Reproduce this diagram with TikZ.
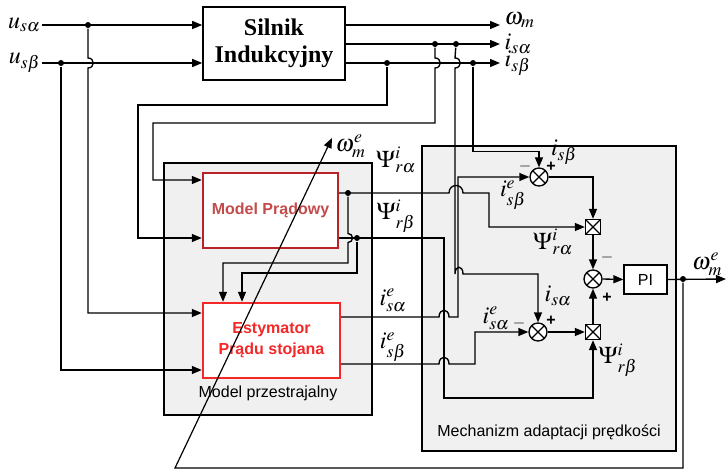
\documentclass[tikz,border=0pt]{standalone}
\usepackage{mathptmx}
\usepackage{fontspec}
\setmainfont{Liberation Serif}
\setsansfont{Liberation Sans}
\usepackage{tikz}
\usetikzlibrary{positioning,arrows.meta}
\definecolor{panelgray}{RGB}{240,240,240}
\definecolor{mpred}{RGB}{185,35,40}
\definecolor{mptext}{RGB}{195,75,75}
\definecolor{estred}{RGB}{245,40,40}
\newcommand{\lblsize}{\fontsize{24}{26}\selectfont}
\newcommand{\sgnsize}{\fontsize{16}{17}\selectfont}

\begin{document}
\begin{tikzpicture}[x=1pt,y=-1pt,line width=1.35pt,
  >={Triangle[length=10pt,width=8pt]},
  font=\sffamily\fontsize{16}{19}\selectfont,
  panel/.style={draw,fill=panelgray,line width=1.3pt,inner sep=0pt},
  redbox/.style={draw,fill=white,line width=2.4pt,minimum width=136pt,minimum height=75pt,align=center,font=\sffamily\bfseries\fontsize{16}{21}\selectfont},
  lbl/.style={inner sep=1pt,font=\lblsize},
  sgn/.style={inner sep=0pt,font=\sffamily\bfseries\sgnsize},
  dot/.style={circle,fill,inner sep=0pt,minimum size=6pt},
  sumj/.style={circle,draw,fill=white,minimum size=18pt,inner sep=0pt,
    path picture={\draw (path picture bounding box.north west) -- (path picture bounding box.south east)
      (path picture bounding box.north east) -- (path picture bounding box.south west);}},
  mulj/.style={rectangle,draw,fill=white,minimum size=15pt,inner sep=0pt,
    path picture={\draw (path picture bounding box.north west) -- (path picture bounding box.south east)
      (path picture bounding box.north east) -- (path picture bounding box.south west);}}]
\useasboundingbox (0,0) rectangle (727,473);

% panels
\node[panel,minimum width=208pt,minimum height=252pt] (mpz) at (268,289) {};
\node[panel,minimum width=254pt,minimum height=305pt] (adapt) at (549,298.5) {};
\node (mpzlbl) at (268,393) {Model przestrajalny};
\node (adaptlbl) at (549,432) {Mechanizm adaptacji prędkości};

% blocks
\node[draw,fill=white,line width=1.6pt,minimum width=142pt,minimum height=73pt,align=center,
  font=\rmfamily\bfseries\fontsize{24}{27}\selectfont] (sil) at (274,43.5) {Silnik\\Indukcyjny};
\node[redbox,draw=mpred,text=mptext,minimum width=135pt] (mp) at (270.5,210.5) {Model Prądowy};
\node[redbox,draw=estred,text=estred,minimum width=137pt] (est) at (271.5,340.5) {Estymator\\Prądu stojana};
\node[draw,fill=white,line width=1.3pt,minimum width=43pt,minimum height=29pt] (pi) at (645.5,279.5) {PI};

\node[sumj] (sum1) at (539,177) {};
\node[sumj] (sum2) at (593,279) {};
\node[sumj] (sum3) at (538,332) {};
\node[mulj] (mul1) at (593,227) {};
\node[mulj] (mul2) at (593,332) {};

% ports
\coordinate (mp-a) at ([yshift=30.5pt]mp.west);
\coordinate (mp-b) at ([yshift=-27.5pt]mp.west);
\coordinate (mp-c) at ([yshift=17.5pt]mp.east);
\coordinate (mp-d) at ([yshift=-27.5pt]mp.east);
\coordinate (est-a) at ([yshift=27.5pt]est.west);
\coordinate (est-b) at ([yshift=-29.5pt]est.west);
\coordinate (est-e) at ([xshift=-48.5pt]est.north);
\coordinate (est-f) at ([xshift=-29.5pt]est.north);
\coordinate (est-g) at ([yshift=23.5pt]est.east);
\coordinate (est-h) at ([yshift=-23.5pt]est.east);

% inputs and outputs
\node[lbl,anchor=east] (usa) at (42,25) {$u_{s\alpha}$};
\node[lbl,anchor=east] (usb) at (42,63) {$u_{s\beta}$};
\coordinate (o1) at (500,25);
\coordinate (o2) at (500,44);
\coordinate (o3) at (500,63);
\coordinate (o4) at (726,279);
\node[lbl,right=3pt of o1,yshift=5pt] (wm) {$\omega_{m}$};
\node[lbl,right=3pt of o2] (isa) {$i_{s\alpha}$};
\node[lbl,right=3pt of o3] (isb) {$i_{s\beta}$};

\node[dot] (ja) at (88,25) {};
\node[dot] (jb) at (61,63) {};
\node[dot] (jc) at (387,63) {};
\node[dot] (jd) at (435,44) {};
\node[dot] (je) at (456,44) {};
\node[dot] (jf) at (473,63) {};
\node[dot] (jg) at (348,193) {};
\node[dot] (jh) at (357,238) {};
\node[dot] (jk) at (683,279) {};

\draw[->] (usa.east) -- (sil.west |- usa.east);
\draw[->] (usb.east) -- (sil.west |- usb.east);
\draw[->] (sil.east |- o1) -- (o1);
\draw[->] (sil.east |- o2) -- (o2);
\draw[->] (sil.east |- o3) -- (o3);

\draw[->] (ja) -- (88,58) .. controls +(7,0) and +(7,0) .. (88,68) |- (est-a);
\draw[->] (jb) |- (est-b);

% feedback of the measured currents
\draw[->] (jc) |- (138,105) |- (mp-b);
\draw[->] (jd) -- (435,58) .. controls +(7,0) and +(7,0) .. (435,68) |- (153,123) |- (mp-a);
\draw[->] (je) -- (455,58) .. controls +(7,0) and +(7,0) .. (455,68) -- (455,274)
  .. controls +(0,-9) and +(0,-9) .. (463,274) -| (sum3.north);
\draw[->] (jf) |- ([yshift=16pt]sum1.north) -- (sum1.north);

% model outputs
\draw[->] (mp-c) -- (449,193) .. controls +(0,-10) and +(0,-10) .. (463,193) -| (489,210) |- (mul1.west);
\draw[->] (mp-d) -- (444,238) |- (593,398) -- (mul2.south);
\draw[->] (jg) -- (348,233.5) .. controls +(6,0) and +(6,0) .. (348,242.5) -- (348,263) -| (est-e);
\draw[->] (jh) -- (357,273) -| (est-f);
\draw[->] (est-g) -- (439,317) .. controls +(0,-9) and +(0,-9) .. (449,317) -| (458,250) |- (sum1.west);
\draw[->] (est-h) -- (439,364) .. controls +(0,-9) and +(0,-9) .. (449,364) -| (475,350) |- (sum3.west);

% adaptation
\draw[->] (sum1.east) -| (mul1.north);
\draw[->] (mul1.south) -- (sum2.north);
\draw[->] (sum3.east) -- (mul2.west);
\draw[->] (mul2.north) -- (sum2.south);
\draw[->] (sum2.east) -- (pi.west);
\draw[->] (pi.east) -- (o4);
\coordinate (wme) at (332,138);
\draw[->,line width=1.2pt] (jk) |- (175,468) -- (wme);

% labels
\node[lbl,anchor=west] (wmelbl) at (334,146) {$\omega_{m}^{e}$};
\node[lbl] (wmeout) at (707,264) {$\omega_{m}^{e}$};
\node[lbl] (psa) at (396,160) {$\Psi_{r\alpha}^{i}$};
\node[lbl] (psb) at (396,216) {$\Psi_{r\beta}^{i}$};
\node[lbl] (iea) at (393,300) {$i_{s\alpha}^{e}$};
\node[lbl] (ieb) at (393,347) {$i_{s\beta}^{e}$};
\node[lbl] (isb2) at (564,152) {$i_{s\beta}$};
\node[lbl] (ieb2) at (513,195) {$i_{s\beta}^{e}$};
\node[lbl] (psa2) at (553,242) {$\Psi_{r\alpha}^{i}$};
\node[lbl] (isa2) at (558,296) {$i_{s\alpha}$};
\node[lbl] (iea2) at (496,318) {$i_{s\alpha}^{e}$};
\node[lbl] (psb2) at (618,360) {$\Psi_{r\beta}^{i}$};
\node[sgn] (s1m) at (525,167) {$-$};
\node[sgn] (s1p) at (551,167) {+};
\node[sgn] (s2m) at (607,257) {$-$};
\node[sgn] (s2p) at (607,298) {+};
\node[sgn] (s3m) at (519,323) {$-$};
\node[sgn] (s3p) at (551,321) {+};
\end{tikzpicture}
\end{document}
